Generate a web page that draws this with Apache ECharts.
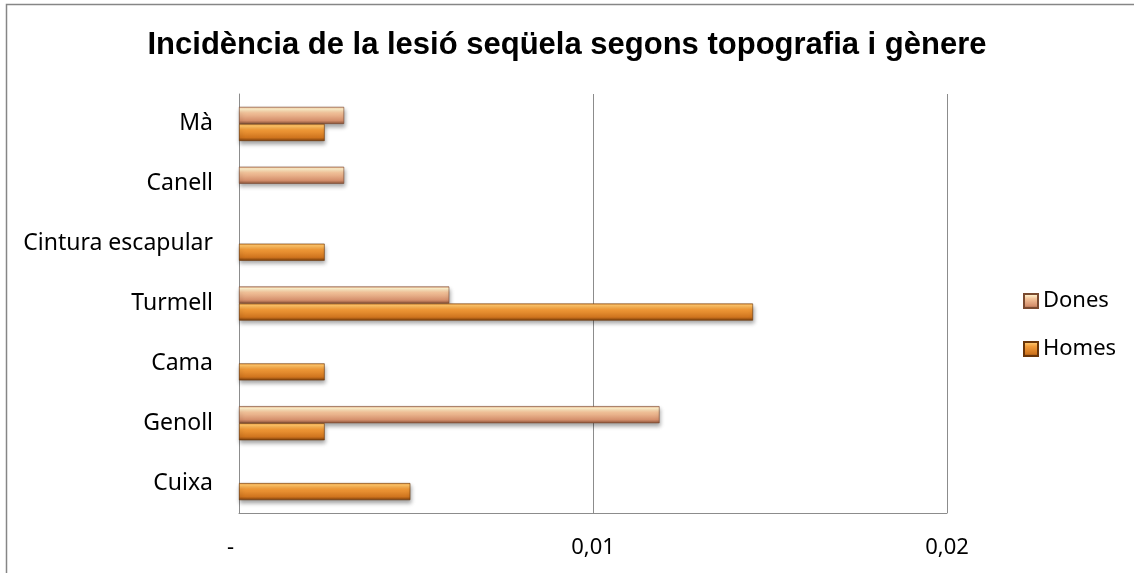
<!DOCTYPE html>
<html><head><meta charset="utf-8">
<script src="https://cdn.jsdelivr.net/npm/echarts@6/dist/echarts.min.js"></script>
<style>html,body{margin:0;padding:0;background:#fff}#c{width:1134px;height:573px}</style>
</head><body><div id="c"></div>
<script>
const categories = ['Cuixa','Genoll','Cama','Turmell','Cintura escapular','Canell','Mà'];
const homes = [0.00484, 0.00242, 0.00242, 0.01452, 0.00242, 0, 0.00242];
const dones = [0, 0.01188, 0, 0.00594, 0, 0.00297, 0.00297];
const xTicks = {0:'-   ', 0.01:'0,01', 0.02:'0,02'};

function grad(stops){
  return new echarts.graphic.LinearGradient(0,0,0,1, stops.map(c=>({offset:c[0], color:c[1]})));
}
const homesColor = grad([[0,'#f2a040'],[0.12,'#ffc468'],[0.35,'#f19a38'],[0.8,'#cf741e'],[1,'#7a3e0c']]);
const donesColor = grad([[0,'#e9a57c'],[0.12,'#fff2cc'],[0.35,'#f3c39a'],[0.8,'#d48f6c'],[1,'#8a5238']]);
const noZero = arr => arr.map(v => v === 0 ? null : v);

const chart = echarts.init(document.getElementById('c'), null, {renderer:'canvas'});
chart.setOption({
  animation:false,
  backgroundColor:'#fff',
  title:{text:'Incidència de la lesió seqüela segons topografia i gènere', left:'center', top:25,
    textStyle:{fontFamily:'Liberation Sans', fontWeight:'bold', fontSize:31, color:'#000'}},
  graphic:[{type:'rect', shape:{x:6.5,y:4.5,width:1200,height:600}, style:{fill:'none', stroke:'#868686', lineWidth:1.5}, silent:true}],
  legend:{orient:'vertical', left:1018, top:285, itemWidth:14, itemHeight:14, itemGap:26, icon:'rect',
    data:['Dones','Homes'], textStyle:{fontFamily:'Noto Sans', fontSize:22, color:'#000', padding:[0,0,0,0]}},
  grid:{left:239, right:187, top:94, bottom:60, containLabel:false},
  xAxis:{type:'value', min:0, max:0.02, interval:0.01,
    axisLine:{show:true, lineStyle:{color:'#8c8c8c', width:1}},
    axisTick:{show:false},
    splitLine:{show:true, lineStyle:{color:'#8c8c8c', width:1}},
    axisLabel:{margin:24, fontFamily:'Noto Sans', fontSize:22, color:'#000', formatter:v=>xTicks[Math.round(v*100)/100] ?? String(v).replace('.',',')}},
  yAxis:{type:'category', data:categories,
    axisLine:{show:true, lineStyle:{color:'#8c8c8c', width:1}},
    axisTick:{show:false},
    axisLabel:{margin:26, fontFamily:'Noto Sans', fontSize:23, color:'#000', padding:[4,0,0,0]}},
  series:[
    {name:'Dones', type:'bar', data:noZero(dones), barGap:'0%', barCategoryGap:'43%',
     itemStyle:{color:donesColor, borderColor:'#7a4a30', borderWidth:0.6, shadowColor:'rgba(0,0,0,0.35)', shadowBlur:4, shadowOffsetY:3, shadowOffsetX:1}},
    {name:'Homes', type:'bar', data:noZero(homes), barGap:'0%', barCategoryGap:'43%',
     itemStyle:{color:homesColor, borderColor:'#6a3508', borderWidth:0.6, shadowColor:'rgba(0,0,0,0.35)', shadowBlur:4, shadowOffsetY:3, shadowOffsetX:1}}
  ]
});
</script></body></html>
